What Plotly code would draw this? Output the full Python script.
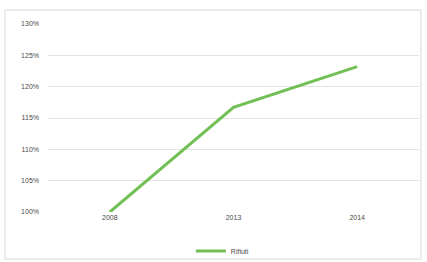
import plotly.graph_objects as go

years = ["2008", "2013", "2014"]
rifiuti = [100.0, 116.7, 123.2]
tick_vals = [100, 105, 110, 115, 120, 125, 130]
tick_text = ["100%", "105%", "110%", "115%", "120%", "125%", "130%"]

W, H = 427, 262
L, R, T, B = 48, 8, 24, 50
pw, ph = W - L - R, H - T - B

fig = go.Figure()
fig.add_trace(go.Scatter(x=years, y=rifiuti, mode="lines", name="Rifiuti",
                         line=dict(color="#72bf55", width=3)))
fig.update_layout(
    width=W, height=H,
    margin=dict(l=L, r=R, t=T, b=B, autoexpand=False),
    paper_bgcolor="white", plot_bgcolor="white",
    font=dict(family="Liberation Sans, Arial", size=7, color="#4a4a4a"),
    showlegend=True,
    legend=dict(orientation="h", x=0.47, xanchor="center",
                y=-(251 - (T + ph)) / ph, yanchor="middle",
                bgcolor="rgba(0,0,0,0)",
                font=dict(size=7), itemwidth=30),
    shapes=[dict(type="rect", xref="paper", yref="paper",
                 x0=(5 - L) / pw, x1=(421 - L) / pw,
                 y0=-(259 - (T + ph)) / ph, y1=(T + ph - 10) / ph,
                 line=dict(color="#d9d9d9", width=1))],
)
fig.update_xaxes(type="category", range=[-0.5, 2.5], showgrid=False,
                 showline=False, ticks="", tickfont=dict(size=7))
fig.update_yaxes(range=[100, 130], tickvals=tick_vals, ticktext=tick_text,
                 showgrid=True, gridcolor="#e3e3e3", zeroline=False,
                 tickfont=dict(size=7), ticks="", ticklabelstandoff=8)
fig.write_html("out.html", config={"displayModeBar": False},
               post_script="document.body.style.margin='0';document.body.style.overflow='hidden';")
